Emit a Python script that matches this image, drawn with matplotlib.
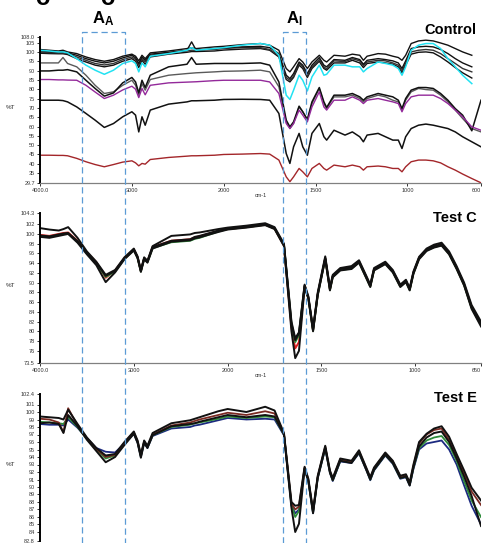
import matplotlib.pyplot as plt
import matplotlib.transforms as mtransforms
from matplotlib.lines import Line2D
import numpy as np

plt.rcParams['font.family'] = ['Liberation Sans', 'DejaVu Sans']
plt.rcParams['mathtext.fontset'] = 'custom'
plt.rcParams['mathtext.rm'] = 'Liberation Sans'
plt.rcParams['mathtext.bf'] = 'Liberation Sans:bold'

nan = np.nan

# wavenumber grid (cm-1), shared by every spectrum
wavenumber = np.array([
    4000, 3900, 3800, 3750, 3700, 3600, 3500, 3400, 3300, 3200, 3100,
    3000, 2960, 2925, 2890, 2855, 2800, 2600, 2400, 2350, 2300, 2100,
    2000, 1900, 1800, 1750, 1700, 1660, 1640, 1620, 1590, 1570, 1545,
    1520, 1480, 1455, 1440, 1400, 1340, 1300, 1260, 1240, 1220, 1160,
    1120, 1080, 1050, 1030, 1010, 980, 940, 900, 860, 820, 780,
    740, 700, 650, 600])

# ---- Control (%T) ----
ctrl_top = [
    101.3, 100.9, 100.5, 100.9, 100.0, 99.1, 97.3, 95.9, 95.0, 95.9, 97.7,
    98.8, 97.7, 95.2, 98.2, 96.4, 99.5, 100.5, 101.8, 102.1, 101.8, 102.7,
    103.0, 103.9, 104.5, 103.6, 100.9, 91.1, 89.3, 92.0, 96.4, 94.6, 91.1,
    94.6, 98.2, 95.5, 94.6, 98.2, 97.7, 98.8, 98.2, 95.5, 97.7, 99.1,
    98.8, 97.7, 97.0, 95.5, 98.2, 104.5, 105.9, 106.3, 105.9, 104.8, 103.6,
    101.8, 100.0, 98.2, nan]
ctrl_b2 = [
    100.5, 100.2, 100.0, 100.0, 99.5, 98.2, 96.4, 95.0, 94.1, 95.0, 96.8,
    98.2, 96.8, 93.8, 97.3, 95.5, 98.8, 99.8, 100.9, 105.4, 100.9, 101.8,
    102.3, 102.7, 103.0, 102.3, 99.1, 87.5, 85.7, 88.4, 94.6, 92.9, 88.4,
    92.9, 97.0, 92.9, 92.0, 95.9, 95.5, 97.0, 95.9, 93.4, 95.5, 96.4,
    95.9, 95.2, 94.1, 91.1, 95.2, 101.8, 102.7, 103.0, 102.7, 101.3, 99.1,
    96.4, 94.1, 92.0, nan]
ctrl_b3 = [
    99.8, 99.6, 99.5, 99.5, 99.1, 97.3, 95.5, 93.8, 93.0, 93.8, 95.9,
    97.3, 95.9, 92.9, 96.4, 94.6, 98.2, 99.5, 100.5, 100.9, 100.9, 101.3,
    101.8, 102.3, 102.3, 101.3, 98.2, 86.3, 84.8, 87.0, 93.8, 92.0, 87.0,
    92.0, 95.9, 92.0, 90.9, 95.2, 94.8, 96.3, 95.2, 92.7, 94.6, 95.5,
    95.2, 94.1, 92.9, 89.8, 93.8, 100.0, 100.9, 101.3, 100.9, 99.1, 96.4,
    93.8, 91.1, 89.3, nan]
ctrl_b4 = [
    99.3, 99.1, 99.0, 99.0, 98.6, 96.4, 94.6, 92.9, 92.0, 92.9, 95.0,
    96.4, 95.0, 91.6, 95.5, 93.4, 97.3, 98.8, 99.8, 100.2, 100.2, 100.5,
    101.0, 101.5, 101.8, 100.9, 97.3, 85.2, 83.9, 86.3, 92.9, 91.1, 86.3,
    91.1, 95.0, 91.1, 90.2, 94.1, 94.1, 95.5, 94.1, 91.6, 93.8, 94.6,
    94.1, 93.4, 92.0, 88.8, 92.9, 98.8, 99.8, 100.0, 99.5, 97.3, 94.6,
    91.6, 88.8, 86.0, nan]
ctrl_cyan = [
    100.9, 100.5, 100.0, 100.0, 99.5, 96.4, 92.9, 90.2, 88.0, 90.2, 93.8,
    95.2, 93.8, 89.3, 94.1, 92.0, 97.7, 99.1, 100.9, 102.3, 100.9, 101.8,
    102.3, 103.6, 104.5, 103.6, 98.2, 76.8, 74.5, 79.5, 87.5, 84.8, 79.1,
    86.6, 92.9, 87.5, 88.0, 92.9, 92.9, 92.0, 92.0, 89.3, 91.1, 94.6,
    93.8, 92.9, 91.1, 87.5, 92.0, 100.9, 103.6, 104.5, 104.5, 101.8, 96.4,
    92.0, 87.5, 83.0, nan]
ctrl_gray = [
    94.1, 94.1, 94.1, 97.0, 93.8, 92.0, 87.5, 82.1, 77.7, 78.6, 82.1,
    84.8, 82.1, 76.8, 83.0, 79.5, 85.2, 87.5, 88.4, 88.6, 88.8, 89.3,
    89.6, 89.8, 90.2, 89.3, 81.3, 62.5, 58.9, 61.6, 70.5, 67.9, 63.4,
    72.3, 80.4, 72.3, 69.6, 75.9, 75.9, 76.8, 75.0, 73.2, 75.0, 76.8,
    75.9, 74.1, 73.2, 68.8, 74.1, 78.6, 80.4, 79.8, 79.5, 76.8, 73.2,
    68.8, 64.3, 58.9, 57.1]
ctrl_b90 = [
    89.8, 89.8, 90.2, 90.2, 90.5, 89.3, 84.8, 80.4, 76.3, 78.0, 83.4,
    86.3, 83.9, 78.0, 84.8, 80.9, 87.5, 92.0, 93.4, 97.0, 93.4, 93.8,
    93.8, 93.8, 94.1, 92.9, 83.9, 63.4, 59.8, 62.5, 70.9, 67.9, 63.8,
    73.2, 80.9, 73.2, 70.2, 76.8, 76.8, 77.7, 75.9, 74.1, 75.9, 77.7,
    76.8, 75.9, 74.1, 69.6, 75.0, 79.5, 80.9, 80.9, 80.4, 77.7, 74.1,
    69.6, 66.1, 57.7, 74.1]
ctrl_purple = [
    85.2, 85.2, 85.0, 85.0, 84.9, 84.8, 82.1, 78.5, 75.0, 76.8, 79.6,
    81.6, 80.0, 75.5, 80.4, 77.0, 82.1, 83.4, 83.8, 83.9, 84.0, 84.6,
    84.8, 84.8, 84.8, 83.9, 77.7, 61.6, 58.9, 61.6, 68.8, 66.1, 62.5,
    70.5, 78.6, 70.5, 68.8, 74.1, 74.1, 75.9, 74.1, 72.3, 74.1, 75.0,
    74.1, 73.2, 72.3, 67.9, 72.3, 75.9, 76.8, 76.8, 76.8, 75.0, 72.3,
    68.8, 65.2, 59.8, 58.0]
ctrl_b75 = [
    74.1, 74.1, 74.1, 73.9, 73.2, 70.5, 67.0, 63.4, 59.5, 61.6, 65.2,
    67.9, 66.1, 57.1, 65.2, 60.7, 68.8, 72.0, 73.2, 73.8, 73.8, 74.1,
    74.5, 74.6, 74.5, 74.1, 67.0, 45.5, 40.2, 49.1, 56.3, 49.1, 44.6,
    56.3, 61.6, 54.5, 52.7, 58.0, 55.4, 57.1, 54.5, 51.8, 55.4, 56.3,
    54.5, 52.7, 52.7, 48.2, 54.5, 58.9, 60.7, 61.3, 60.7, 59.8, 58.9,
    57.1, 54.5, 51.8, 49.1]
ctrl_red = [
    44.6, 44.6, 44.5, 44.5, 44.3, 42.9, 41.1, 39.6, 38.4, 39.6, 40.9,
    41.6, 40.5, 38.9, 40.2, 39.8, 42.3, 43.4, 44.1, 44.3, 44.3, 44.6,
    45.0, 45.2, 45.5, 45.2, 42.0, 33.0, 30.4, 33.0, 37.5, 35.7, 33.0,
    37.5, 40.2, 37.5, 36.6, 39.3, 38.4, 39.3, 38.4, 36.6, 38.4, 38.8,
    38.4, 37.5, 37.5, 35.7, 38.4, 41.1, 42.0, 42.0, 41.6, 40.5, 38.4,
    36.6, 34.5, 32.1, 29.8]

# ---- Test C (%T, 4000-650) ----
test_c_1 = [
    101.2, 100.9, 100.7, 101.0, 101.4, 99.2, 96.4, 94.3, 91.6, 92.6, 95.2,
    97.0, 95.4, 92.6, 95.2, 94.5, 97.5, 99.6, 99.9, 100.2, 100.3, 101.0,
    101.3, 101.7, 102.2, 101.4, 98.0, 82.0, 78.6, 79.8, 89.6, 87.2, 80.6,
    88.0, 95.4, 89.0, 91.6, 93.0, 93.4, 94.6, 91.3, 89.6, 93.0, 94.3,
    92.6, 89.6, 90.6, 88.9, 92.3, 95.3, 97.0, 97.8, 98.2, 96.4, 93.4,
    90.0, 85.4, 82.0]
test_c_2 = [
    99.7, 99.5, 99.9, 100.1, 100.2, 98.5, 96.1, 94.1, 91.4, 92.4, 95.0,
    96.8, 95.2, 92.4, 95.0, 94.3, 97.3, 98.6, 98.9, 99.4, 99.6, 100.7,
    101.1, 101.5, 102.0, 101.2, 97.8, 81.6, 78.2, 79.6, 89.4, 87.0, 80.3,
    87.7, 95.1, 88.7, 91.4, 92.8, 93.1, 94.4, 91.1, 89.4, 92.8, 94.1,
    92.4, 89.4, 90.4, 88.7, 92.1, 95.1, 96.8, 97.5, 97.9, 96.1, 93.1,
    89.7, 85.0, 81.6]
test_c_3 = [
    99.4, 99.2, 99.6, 99.8, 100.0, 98.2, 95.8, 93.6, 90.1, 92.1, 94.8,
    96.6, 95.0, 92.2, 94.8, 94.1, 97.0, 98.4, 98.7, 99.1, 99.3, 100.4,
    100.9, 101.3, 101.8, 101.0, 97.5, 80.0, 74.5, 76.0, 89.0, 86.7, 80.0,
    87.4, 94.8, 88.4, 91.1, 92.5, 92.8, 94.1, 90.8, 89.1, 92.5, 93.8,
    92.1, 89.1, 90.1, 88.4, 91.8, 94.8, 96.5, 97.2, 97.6, 95.8, 92.8,
    89.4, 84.6, 81.0]
test_c_4 = [
    99.6, 99.4, 99.8, 100.0, 100.1, 98.4, 96.0, 94.0, 91.2, 92.3, 94.9,
    96.7, 95.1, 92.3, 94.9, 94.2, 97.1, 98.3, 98.6, 99.0, 99.2, 100.5,
    101.0, 101.4, 101.9, 101.1, 97.7, 81.3, 77.8, 79.2, 89.2, 86.8, 80.1,
    87.5, 94.9, 88.5, 91.2, 92.6, 92.9, 94.2, 90.9, 89.2, 92.6, 93.9,
    92.2, 89.2, 90.2, 88.5, 91.9, 95.0, 96.6, 97.3, 97.7, 95.9, 92.9,
    89.5, 84.8, 81.3]
test_c_5 = [
    99.8, 99.6, 100.0, 100.2, 100.3, 98.6, 96.2, 94.2, 91.0, 92.5, 95.0,
    96.8, 95.2, 92.4, 95.0, 94.3, 97.3, 98.6, 98.9, 99.3, 99.5, 100.6,
    101.0, 101.4, 101.9, 101.1, 97.6, 80.8, 76.5, 77.8, 89.3, 86.9, 80.2,
    87.6, 95.0, 88.6, 91.3, 92.7, 93.0, 94.3, 91.0, 89.3, 92.7, 94.0,
    92.3, 89.3, 90.3, 88.6, 92.0, 95.0, 96.7, 97.4, 97.8, 96.0, 93.0,
    89.6, 84.9, 81.4]

# ---- Test E (%T, 4000-650) ----
test_e_1 = [
    99.4, 99.3, 99.2, 99.0, 100.3, 98.4, 96.6, 95.2, 94.2, 94.4, 96.0,
    97.4, 96.2, 94.3, 96.2, 95.5, 97.2, 98.5, 98.9, 99.1, 99.3, 100.1,
    100.4, 100.0, 100.7, 100.2, 97.2, 88.0, 87.5, 87.6, 92.7, 91.1, 86.9,
    91.5, 95.5, 92.2, 91.2, 93.8, 93.5, 94.9, 92.5, 91.3, 92.6, 94.6,
    93.5, 91.5, 91.7, 90.6, 93.0, 96.0, 97.1, 97.8, 98.1, 96.7, 94.4,
    92.2, 89.9, 88.2]
test_e_2 = [
    99.1, 99.0, 98.6, 97.3, 100.5, 98.2, 96.5, 95.1, 94.0, 94.3, 95.9,
    97.3, 96.1, 94.2, 96.1, 95.4, 97.0, 98.2, 98.6, 98.8, 99.0, 99.6,
    99.9, 99.6, 100.1, 99.8, 97.1, 87.8, 87.0, 87.4, 92.6, 91.0, 86.8,
    91.4, 95.4, 92.1, 91.1, 93.7, 93.4, 94.8, 92.4, 91.2, 92.5, 94.5,
    93.4, 91.4, 91.6, 90.5, 92.8, 95.8, 97.0, 97.6, 97.8, 96.3, 94.1,
    91.8, 89.4, 87.6]
test_e_3 = [
    98.7, 98.6, 98.5, 98.4, 99.3, 98.0, 96.4, 95.0, 93.8, 94.2, 95.7,
    97.2, 96.0, 94.1, 96.0, 95.3, 96.9, 98.0, 98.3, 98.5, 98.6, 99.1,
    99.4, 99.2, 99.4, 99.3, 97.0, 87.6, 86.0, 86.8, 92.5, 90.8, 86.6,
    91.3, 95.2, 92.0, 90.9, 93.5, 93.3, 94.6, 92.3, 91.0, 92.3, 94.3,
    93.2, 91.2, 91.4, 90.3, 92.6, 95.2, 96.2, 96.6, 96.8, 95.6, 93.5,
    90.8, 88.2, 86.0]
test_e_4 = [
    98.4, 98.3, 98.3, 98.2, 99.0, 97.9, 96.5, 95.2, 94.7, 94.6, 95.8,
    97.1, 95.9, 94.0, 95.9, 95.2, 96.8, 97.8, 98.0, 98.2, 98.3, 98.9,
    99.2, 99.0, 99.1, 99.0, 96.9, 87.5, 86.5, 87.0, 92.4, 90.7, 86.5,
    91.2, 95.1, 91.9, 90.8, 93.4, 93.2, 94.5, 92.2, 90.9, 92.2, 94.2,
    93.1, 91.1, 91.3, 90.2, 92.4, 95.0, 95.8, 96.0, 96.2, 95.0, 93.0,
    90.2, 87.5, 85.0]
test_e_5 = [
    98.5, 98.6, 98.4, 97.2, 99.6, 98.1, 96.3, 94.8, 93.3, 94.0, 95.6,
    97.1, 95.9, 93.9, 95.9, 95.2, 96.9, 98.1, 98.4, 98.5, 98.7, 99.3,
    99.6, 99.3, 99.6, 99.4, 97.0, 87.2, 84.0, 85.1, 92.4, 90.8, 86.5,
    91.2, 95.2, 91.9, 90.9, 93.5, 93.2, 94.6, 92.2, 91.0, 92.3, 94.3,
    93.2, 91.2, 91.4, 90.2, 92.6, 95.4, 96.6, 97.2, 97.4, 96.0, 93.8,
    91.4, 88.8, 84.8]

# amide A and amide I bands (cm-1) marked with dashed boxes
bands = [('A', 3545, 3075), ('I', 1675, 1555)]


def expand_fwd(w):
    # region below 2000 cm-1 is drawn at twice the scale
    w = np.asarray(w, dtype=float)
    return np.where(w > 2000, 2000 + (w - 2000) / 2, w)


def expand_inv(u):
    u = np.asarray(u, dtype=float)
    return np.where(u > 2000, 2000 + (u - 2000) * 2, u)


W, H = 483, 543
fig = plt.figure(figsize=(W / 100, H / 100), dpi=100)


def px_box(left, top, right, bottom):
    return [left / W, 1 - bottom / H, (right - left) / W, (bottom - top) / H]


ax1 = fig.add_axes(px_box(40, 37, 481, 183))
ax2 = fig.add_axes(px_box(40, 213, 481, 363))
ax3 = fig.add_axes(px_box(40, 394, 481, 541))


def dress(ax, ylo, yhi, yticks, xend, name, name_y):
    ax.set_xscale('function', functions=(expand_fwd, expand_inv))
    ax.set_xlim(4000, xend)
    ax.set_ylim(ylo, yhi)
    ax.spines['top'].set_visible(False)
    ax.spines['right'].set_visible(False)
    ax.spines['left'].set_linewidth(1.4)
    ax.spines['bottom'].set_color('#808080')
    ax.spines['bottom'].set_linewidth(0.9)
    ax.set_yticks([ylo] + yticks + [yhi])
    ax.set_yticklabels([f'{ylo:.1f}'] + [str(t) for t in yticks] + [f'{yhi:.1f}'])
    ax.set_xticks([4000, 3000, 2000, 1500, 1000, xend])
    ax.set_xticklabels(['4000.0', '3000', '2000', '1500', '1000', str(xend)])
    ax.get_xticklabels()[-1].set_horizontalalignment('right')
    ax.tick_params(axis='both', labelsize=4, colors='#333333',
                   length=2.2, width=0.7, pad=1.5)
    ax.set_ylabel('%T', rotation=0, fontsize=4.5, color='#333333')
    ax.yaxis.set_label_coords(-30 / 441, 0.5)
    ax.set_xlabel('cm-1', fontsize=4, color='#333333', labelpad=0)
    ax.text(0.99, name_y, name, transform=ax.transAxes, ha='right',
            va='center', fontsize=10.5, fontweight='bold')


# Control panel
ax1.plot(wavenumber, ctrl_gray, color='#5a5a5a', lw=1.0)
ax1.plot(wavenumber, ctrl_b90, color='#111111', lw=1.1)
ax1.plot(wavenumber, ctrl_b75, color='#111111', lw=1.1)
ax1.plot(wavenumber, ctrl_b4, color='#111111', lw=1.0)
ax1.plot(wavenumber, ctrl_b3, color='#333333', lw=1.0)
ax1.plot(wavenumber, ctrl_b2, color='#111111', lw=1.0)
ax1.plot(wavenumber, ctrl_top, color='#111111', lw=1.0)
ax1.plot(wavenumber, ctrl_purple, color='#93299a', lw=1.0)
ax1.plot(wavenumber, ctrl_cyan, color='#22e2f2', lw=1.1)
ax1.plot(wavenumber, ctrl_red, color='#a3262a', lw=1.0)
dress(ax1, 29.7, 108.0, list(range(35, 106, 5)), 600, 'Control', 1.048)

# Test C panel
wn_test = wavenumber[:-1]
ax2.plot(wn_test, test_c_5, color='#e02020', lw=1.4)
ax2.plot(wn_test, test_c_4, color='#2e8b3a', lw=1.4)
ax2.plot(wn_test, test_c_2, color='#111111', lw=1.4)
ax2.plot(wn_test, test_c_1, color='#111111', lw=1.4)
ax2.plot(wn_test, test_c_3, color='#111111', lw=1.4)
dress(ax2, 73.5, 104.3, list(range(76, 103, 2)), 650, 'Test C', 0.97)

# Test E panel
ax3.plot(wn_test, test_e_4, color='#1c2a80', lw=1.3)
ax3.plot(wn_test, test_e_3, color='#2e8b3a', lw=1.3)
ax3.plot(wn_test, test_e_2, color='#7a2a22', lw=1.3)
ax3.plot(wn_test, test_e_5, color='#111111', lw=1.4)
ax3.plot(wn_test, test_e_1, color='#111111', lw=1.4)
dress(ax3, 82.8, 102.4, list(range(84, 102)), 650, 'Test E', 0.976)
ax3.spines['bottom'].set_visible(False)
ax3.set_xlabel('')
ax3.tick_params(axis='x', bottom=False, labelbottom=False)

# dashed band boxes running through all three panels
guide = mtransforms.blended_transform_factory(ax1.transData, fig.transFigure)
box_top = 1 - 32 / H
for sub, w_hi, w_lo in bands:
    fig.add_artist(Line2D([w_hi, w_hi, w_lo, w_lo], [0, box_top, box_top, 0],
                          transform=guide, color='#5b9bd5', lw=0.9,
                          linestyle=(0, (5, 3)), zorder=6))
    mid = expand_inv((expand_fwd(w_hi) + expand_fwd(w_lo)) / 2)
    fig.text(float(mid), 1 - 28 / H, r'$\mathbf{A_{%s}}$' % sub,
             transform=guide, ha='center', va='bottom', fontsize=12)

# bottoms of the heading letters above
fig.text(42 / W, 1 - 5 / H, 'o', fontsize=17, fontweight='bold',
         ha='center', va='baseline')
fig.text(107 / W, 1 - 5 / H, 'o', fontsize=17, fontweight='bold',
         ha='center', va='baseline')

fig.savefig('out.png', dpi=100)
